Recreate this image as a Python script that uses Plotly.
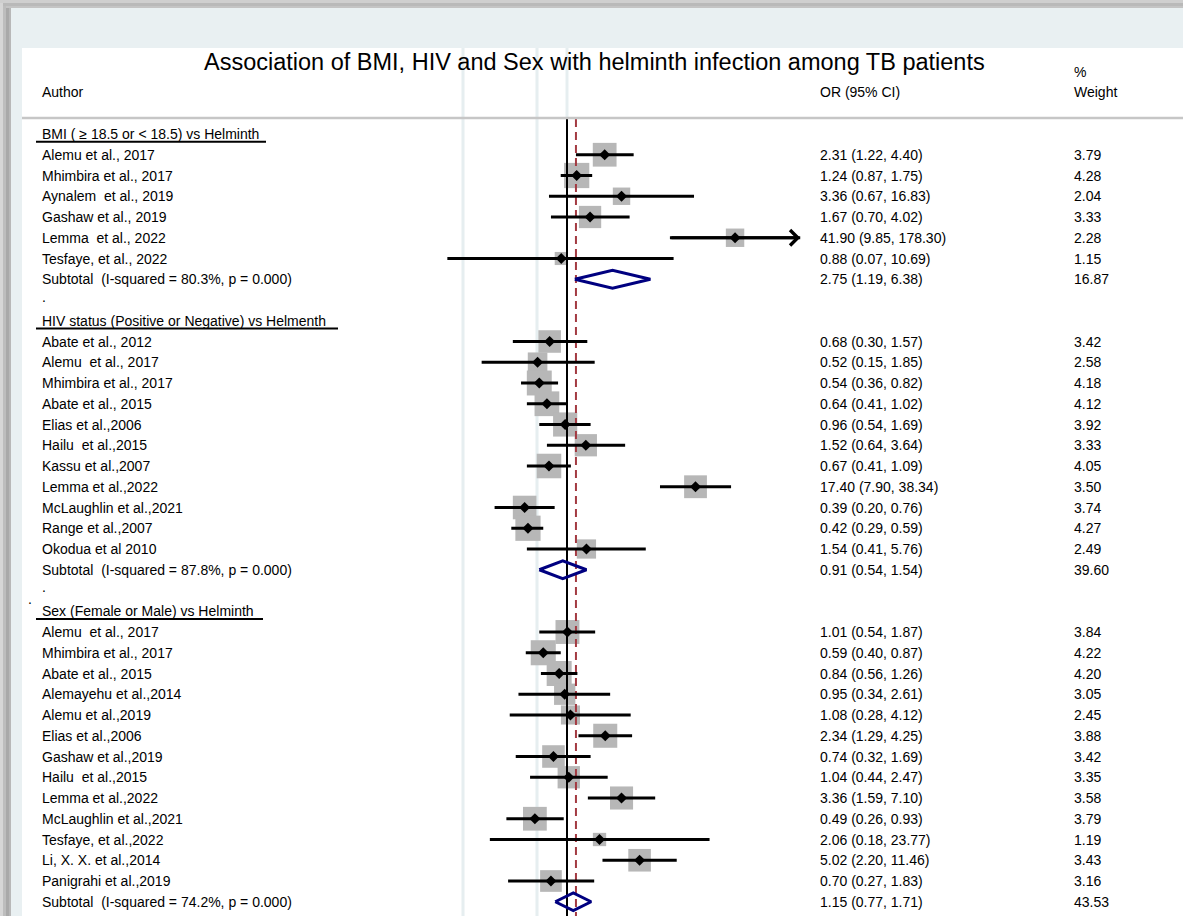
import math
import plotly.graph_objects as go

W, H = 1183, 916

# ---------------- data ----------------
bmi_authors = ["Alemu et al., 2017", "Mhimbira et al., 2017", "Aynalem\u00a0 et al., 2019",
               "Gashaw et al., 2019", "Lemma\u00a0 et al., 2022", "Tesfaye, et al., 2022"]
bmi_or = [2.31, 1.24, 3.36, 1.67, 41.90, 0.88]
bmi_lo = [1.22, 0.87, 0.67, 0.70, 9.85, 0.07]
bmi_hi = [4.40, 1.75, 16.83, 4.02, 178.30, 10.69]
bmi_w = [3.79, 4.28, 2.04, 3.33, 2.28, 1.15]
bmi_sub = ("Subtotal\u00a0 (I-squared = 80.3%, p = 0.000)", 2.75, 1.19, 6.38, 16.87)

hiv_authors = ["Abate et al., 2012", "Alemu\u00a0 et al., 2017", "Mhimbira et al., 2017",
               "Abate et al., 2015", "Elias et al.,2006", "Hailu\u00a0 et al.,2015",
               "Kassu et al.,2007", "Lemma et al.,2022", "McLaughlin et al.,2021",
               "Range et al.,2007", "Okodua et al 2010"]
hiv_or = [0.68, 0.52, 0.54, 0.64, 0.96, 1.52, 0.67, 17.40, 0.39, 0.42, 1.54]
hiv_lo = [0.30, 0.15, 0.36, 0.41, 0.54, 0.64, 0.41, 7.90, 0.20, 0.29, 0.41]
hiv_hi = [1.57, 1.85, 0.82, 1.02, 1.69, 3.64, 1.09, 38.34, 0.76, 0.59, 5.76]
hiv_w = [3.42, 2.58, 4.18, 4.12, 3.92, 3.33, 4.05, 3.50, 3.74, 4.27, 2.49]
hiv_sub = ("Subtotal\u00a0 (I-squared = 87.8%, p = 0.000)", 0.91, 0.54, 1.54, 39.60)

sex_authors = ["Alemu\u00a0 et al., 2017", "Mhimbira et al., 2017", "Abate et al., 2015",
               "Alemayehu et al.,2014", "Alemu et al.,2019", "Elias et al.,2006",
               "Gashaw et al.,2019", "Hailu\u00a0 et al.,2015", "Lemma et al.,2022",
               "McLaughlin et al.,2021", "Tesfaye, et al.,2022", "Li, X. X. et al.,2014",
               "Panigrahi et al.,2019"]
sex_or = [1.01, 0.59, 0.84, 0.95, 1.08, 2.34, 0.74, 1.04, 3.36, 0.49, 2.06, 5.02, 0.70]
sex_lo = [0.54, 0.40, 0.56, 0.34, 0.28, 1.29, 0.32, 0.44, 1.59, 0.26, 0.18, 2.20, 0.27]
sex_hi = [1.87, 0.87, 1.26, 2.61, 4.12, 4.25, 1.69, 2.47, 7.10, 0.93, 23.77, 11.46, 1.83]
sex_w = [3.84, 4.22, 4.20, 3.05, 2.45, 3.88, 3.42, 3.35, 3.58, 3.79, 1.19, 3.43, 3.16]
sex_sub = ("Subtotal\u00a0 (I-squared = 74.2%, p = 0.000)", 1.15, 0.77, 1.71, 43.53)

group_headers = ["BMI ( \u2265 18.5 or &lt; 18.5) vs Helminth",
                 "HIV status (Positive or Negative) vs Helmenth",
                 "Sex (Female or Male) vs Helminth"]
overall_or = 1.22  # position of dashed overall line (estimated)
title = "Association of BMI, HIV and Sex with helminth infection among TB patients"

# ---------------- geometry helpers ----------------
X0PX, PXDEC = 567.0, 103.6        # pixel of OR=1, pixels per decade
ROW0, PITCH = 134.0, 20.75        # pixel of row 0, row pitch


def xp(p):
    return p / W


def row_of_px(p):
    return (p - ROW0) / PITCH


FONT = "Arial, Liberation Sans, sans-serif"

groups = [
    (group_headers[0], bmi_authors, bmi_or, bmi_lo, bmi_hi, bmi_w, bmi_sub),
    (group_headers[1], hiv_authors, hiv_or, hiv_lo, hiv_hi, hiv_w, hiv_sub),
    (group_headers[2], sex_authors, sex_or, sex_lo, sex_hi, sex_w, sex_sub),
]

# build rows
study_rows = []   # (row, name, or, lo, hi, w)
sub_rows = []
header_rows = []
dot_rows = []
r = 0
for gi, (hdr, au, o, lo, hi, w, sub) in enumerate(groups):
    header_rows.append((r, hdr))
    r += 1
    for k in range(len(au)):
        study_rows.append((r, au[k], o[k], lo[k], hi[k], w[k]))
        r += 1
    sub_rows.append((r,) + sub)
    r += 1
    if gi < len(groups) - 1:
        dot_rows.append(r)
        r += 1

fig = go.Figure()

# grey weight squares
fig.add_trace(go.Scatter(
    x=[s[2] for s in study_rows], y=[s[0] for s in study_rows], mode="markers",
    marker=dict(symbol="square", size=[12.2 * math.sqrt(s[5]) for s in study_rows],
                color="#b7b7b7", opacity=1, line=dict(width=0)),
    hoverinfo="skip", showlegend=False))

# null line and overall line
top_row = row_of_px(119)
bot_row = row_of_px(H + 5)
fig.add_trace(go.Scatter(x=[1, 1], y=[top_row, bot_row], mode="lines",
                         line=dict(color="black", width=2), hoverinfo="skip", showlegend=False))
fig.add_trace(go.Scatter(x=[overall_or, overall_or], y=[top_row, bot_row], mode="lines",
                         line=dict(color="#a33a42", width=2, dash="8px,5px"),
                         hoverinfo="skip", showlegend=False))

# CI lines
cx, cy = [], []
for s in study_rows:
    cx += [s[3], s[4], None]
    cy += [s[0], s[0], None]
fig.add_trace(go.Scatter(x=cx, y=cy, mode="lines", line=dict(color="black", width=3),
                         hoverinfo="skip", showlegend=False))

# point estimates
fig.add_trace(go.Scatter(
    x=[s[2] for s in study_rows], y=[s[0] for s in study_rows], mode="markers",
    marker=dict(symbol="diamond", size=8.5, color="black", opacity=1, line=dict(width=0)),
    hoverinfo="skip", showlegend=False))

# subtotal diamonds
dx, dy = [], []
for (rr, name, o, lo, hi, w) in sub_rows:
    dx += [lo, o, hi, o, lo, None]
    dy += [rr, rr - 0.43, rr, rr + 0.43, rr, None]
fig.add_trace(go.Scatter(x=dx, y=dy, mode="lines", line=dict(color="#000080", width=3),
                         hoverinfo="skip", showlegend=False))

annotations = []
# arrow for CI exceeding 100
for s in study_rows:
    if s[4] > 100:
        annotations.append(dict(x=math.log10(s[4]), y=s[0], xref="x", yref="y",
                                ax=math.log10(s[3]), ay=s[0], axref="x", ayref="y",
                                text="", showarrow=True, arrowhead=4, arrowsize=1.0,
                                arrowwidth=3, arrowcolor="black"))


def txt(x, y, t, size=14, yref="y", xanchor="left"):
    annotations.append(dict(x=xp(x), y=y, xref="paper", yref=yref, text=t,
                            showarrow=False, xanchor=xanchor, yanchor="middle",
                            font=dict(family=FONT, size=size, color="black")))


for s in study_rows:
    txt(40, s[0], s[1])
    txt(818, s[0], "%.2f (%.2f, %.2f)" % (s[2], s[3], s[4]))
    txt(1072, s[0], "%.2f" % s[5])
for (rr, name, o, lo, hi, w) in sub_rows:
    txt(40, rr, name)
    txt(818, rr, "%.2f (%.2f, %.2f)" % (o, lo, hi))
    txt(1072, rr, "%.2f" % w)
for rr, hdr in header_rows:
    txt(40, rr, hdr)
for rr in dot_rows:
    txt(40, rr - 0.15, ".")
txt(26, row_of_px(599), ".")

# column headers & title
txt(594, row_of_px(62), title, size=23.5, xanchor="center")
txt(40, row_of_px(92), "Author")
txt(818, row_of_px(92), "OR (95% CI)")
txt(1072, row_of_px(72), "%")
txt(1072, row_of_px(92), "Weight")

shapes = []
# window shadow / background
shapes.append(dict(type="rect", xref="paper", yref="paper", x0=0, x1=1, y0=0, y1=1,
                   fillcolor="#e9f0f2", line=dict(width=0), layer="below"))
for (a, b, c) in [(0, 3, "#d6d6d6"), (3, 6, "#bdbdbd"), (6, 9, "#a9a9a9"), (9, 11, "#b8b8b8")]:
    shapes.append(dict(type="rect", xref="paper", yref="paper", x0=xp(a), x1=xp(b), y0=0, y1=1,
                       fillcolor=c, line=dict(width=0), layer="below"))
for (a, b, c) in [(0, 3, "#cfcfcf"), (3, 6, "#b9b9b9"), (6, 8, "#c4c4c4")]:
    shapes.append(dict(type="rect", xref="paper", yref="paper", x0=xp(a),
                       x1=1, y0=1 - b / H, y1=1 - a / H,
                       fillcolor=c, line=dict(width=0), layer="below"))
shapes.append(dict(type="rect", xref="paper", yref="paper", x0=xp(22), x1=1, y0=0, y1=1 - 48 / H,
                   fillcolor="white", line=dict(width=0), layer="below"))
# faint vertical window lines
for xv, y_end in [(463, H), (537, H), (567, 118)]:
    shapes.append(dict(type="line", xref="paper", yref="paper", x0=xp(xv), x1=xp(xv),
                       y0=1 - 48 / H, y1=1 - y_end / H if y_end < H else 0,
                       line=dict(color="#e6eef0", width=3), layer="below"))
# header separator line
shapes.append(dict(type="line", xref="paper", yref="paper", x0=xp(22), x1=1,
                   y0=1 - 118 / H, y1=1 - 118 / H, line=dict(color="#c6c6c6", width=2.5)))
# group header underlines
for (rr, hdr), xend in zip(header_rows, [266, 338, 263]):
    shapes.append(dict(type="line", xref="paper", yref="y", x0=xp(36), x1=xp(xend),
                       y0=rr + 0.37, y1=rr + 0.37, line=dict(color="black", width=2)))

xmin = (0 - X0PX) / PXDEC
xmax = (W - X0PX) / PXDEC
fig.update_layout(
    width=W, height=H, margin=dict(l=0, r=0, t=0, b=0),
    paper_bgcolor="white", plot_bgcolor="rgba(0,0,0,0)",
    xaxis=dict(type="log", range=[xmin, xmax], domain=[0, 1], visible=False, fixedrange=True),
    yaxis=dict(range=[row_of_px(H), row_of_px(0)], domain=[0, 1], visible=False, fixedrange=True),
    shapes=shapes, annotations=annotations, showlegend=False,
    font=dict(family=FONT),
)

fig.write_html("out.html")
